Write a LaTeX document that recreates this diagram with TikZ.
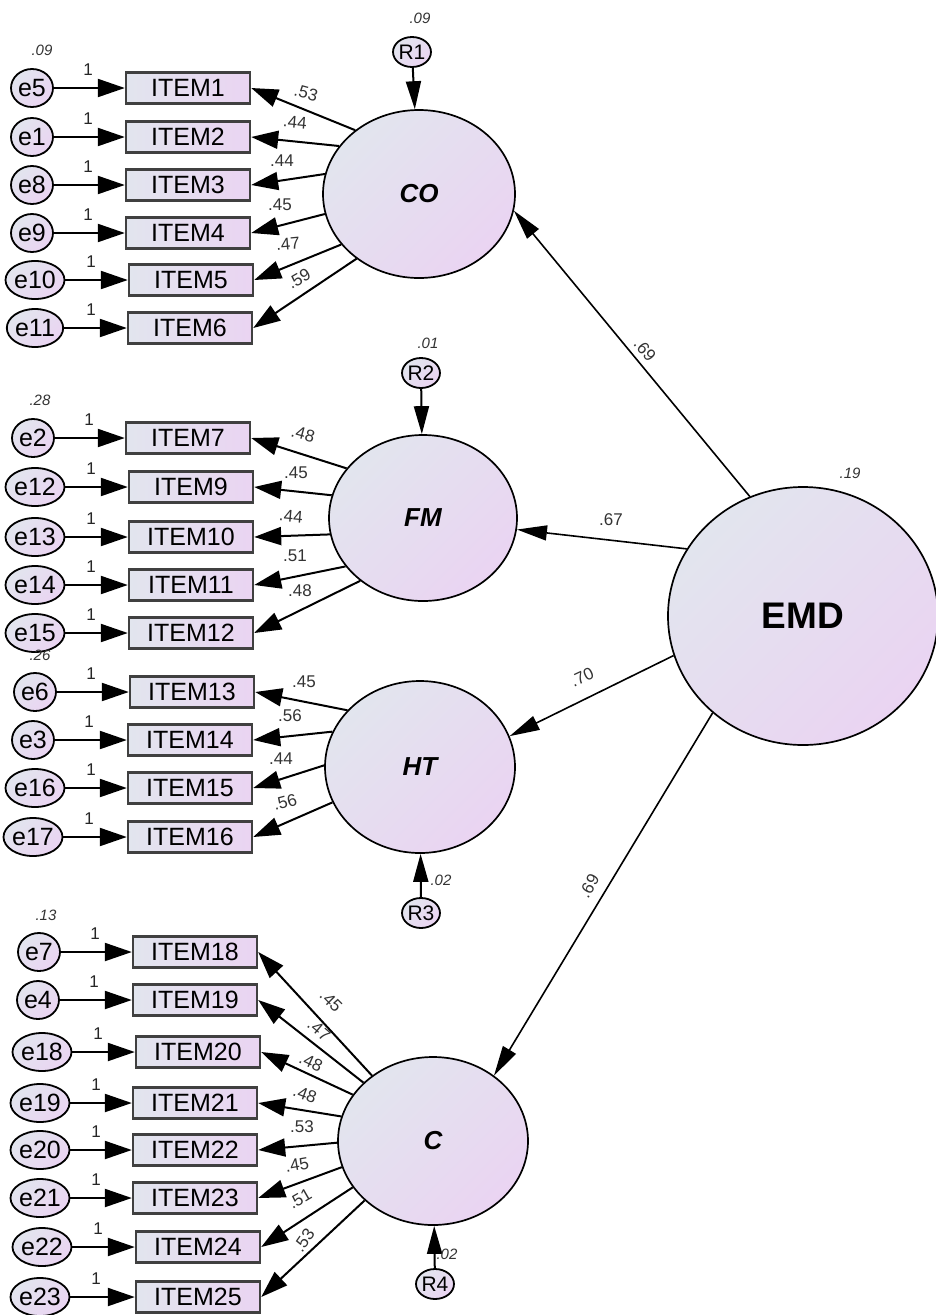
\documentclass[tikz,border=0pt]{standalone}
\usepackage{fontspec}
\setmainfont{Liberation Sans}
\usetikzlibrary{shapes.geometric,arrows.meta}
\definecolor{cA}{HTML}{E2E5EE}
\definecolor{cB}{HTML}{EAD4F2}
\definecolor{lbl}{HTML}{333333}
\begin{document}
\begin{tikzpicture}[x=1pt,y=-1pt,
 shd/.style={top color=cA,bottom color=cB,shading angle=45},
 lat/.style={ellipse,draw=black,line width=1.7pt,shd,inner sep=0pt,font=\fontsize{26}{26}\selectfont\bfseries\itshape},
 err/.style={ellipse,draw=black,line width=1.8pt,shd,minimum width=42pt,minimum height=38pt,inner sep=0pt,font=\fontsize{25}{25}\selectfont},
 res/.style={ellipse,draw=black,line width=1.8pt,shd,minimum width=32pt,minimum height=30pt,inner sep=0pt,font=\fontsize{21}{21}\selectfont},
 itm/.style={rectangle,draw=black!75,line width=2.4pt,left color=cA,right color=cB,minimum width=124pt,minimum height=31pt,inner sep=0pt,font=\fontsize{25}{25}\selectfont},
 ar/.style={line width=2.2pt,-{Triangle[length=27pt,width=18pt]}},
 arR/.style={line width=2pt,-{Triangle[length=28pt,width=15pt]}},
 arL/.style={line width=2pt,-{Triangle[length=27pt,width=18pt]}},
 arE/.style={line width=1.6pt,-{Triangle[length=30pt,width=15pt]}},
 ld/.style={text=lbl,font=\fontsize{17}{17}\selectfont,inner sep=0pt},
 var/.style={text=lbl,font=\fontsize{15}{15}\selectfont\itshape,inner sep=0pt},
 one/.style={text=black!85,font=\fontsize{17}{17}\selectfont,inner sep=0pt}]
\useasboundingbox (0,0) rectangle (936,1315);
\fill[white] (0,0) rectangle (936,1315);

% latent variables
\node[lat,minimum width=192pt,minimum height=168pt] (CO) at (419,194) {CO};
\node[lat,minimum width=188pt,minimum height=166pt] (FM) at (423,518) {FM};
\node[lat,minimum width=190pt,minimum height=172pt] (HT) at (420,767) {HT};
\node[lat,minimum width=190pt,minimum height=168pt] (C) at (433,1141) {C};
\node[lat,minimum width=270pt,minimum height=258pt,font=\fontsize{37}{37}\selectfont\bfseries] (EMD) at (803,616) {EMD};

% residuals
\node[res] (R1) at (412,52) {R1};
\node[res] (R2) at (421,373) {R2};
\node[res] (R3) at (421,913) {R3};
\node[res] (R4) at (435,1284) {R4};
\draw[arR] (R1) -- (CO);
\draw[arR] (R2) -- (FM);
\draw[arR] (R3) -- (HT);
\draw[arR] (R4) -- (C);
\node[var] (vR1) at (420,18) {.09};
\node[var] (vR2) at (428,343) {.01};
\node[var] (vR3) at (441,880) {.02};
\node[var] (vR4) at (447,1254) {.02};

% error terms and items
\foreach \e/\ex/\i/\ix/\y in {5/32/1/188/88, 1/32/2/188/137, 8/32/3/188/185, 9/32/4/188/233, 10/35/5/191/280, 11/35/6/190/328,
 2/33/7/188/438, 12/35/9/191/487, 13/35/10/191/537, 14/35/11/191/585, 15/35/12/191/633,
 6/35/13/192/692, 3/33/14/190/740, 16/35/15/190/788, 17/33/16/190/837,
 7/39/18/195/952, 4/38/19/195/1000, 18/42/20/198/1052, 19/40/21/195/1103, 20/40/22/195/1150, 21/40/23/195/1198, 22/42/24/198/1247, 23/40/25/198/1297}{
 \node[err] (e\e) at (\ex,\y) {e\e};
 \node[itm] (I\i) at (\ix,\y) {ITEM\i};
 \draw[ar] (e\e) -- (I\i);
 \node[one] (one\i) at ({\ex+56},{\y-18}) {1};
}
\node[var] (ve5) at (42,50) {.09};
\node[var] (ve2) at (40,400) {.28};
\node[var] (ve6) at (40,655) {.26};
\node[var] (ve7) at (46,915) {.13};
\node[var] (vEMD) at (850,473) {.19};

% loadings CO
\draw[arL] (CO.135) -- (I1.east);
\draw[arL] (CO.149) -- (I2.east);
\draw[arL] (CO.168) -- (I3.east);
\draw[arL] (CO.192) -- (I4.east);
\draw[arL] (CO.213) -- (I5.east);
\draw[arL] (CO.226) -- (I6.east);
\node[ld,rotate=-15] (l1) at (306,93) {.53};
\node[ld,rotate=-5] (l2) at (295,122) {.44};
\node[ld] (l3) at (282,161) {.44};
\node[ld] (l4) at (280,205) {.45};
\node[ld,rotate=5] (l5) at (288,244) {.47};
\node[ld,rotate=30] (l6) at (299,279) {.59};

% loadings FM
\draw[arL] (FM.147) -- (I7.east);
\draw[arL] (FM.166) -- (I9.east);
\draw[arL] (FM.190) -- (I10.east);
\draw[arL] (FM.212) -- (I11.east);
\draw[arL] (FM.225) -- (I12.east);
\node[ld,rotate=-15] (l7) at (303,434) {.48};
\node[ld] (l9) at (296,473) {.45};
\node[ld,rotate=-5] (l10) at (291,516) {.44};
\node[ld] (l11) at (295,556) {.51};
\node[ld] (l12) at (300,591) {.48};

% loadings HT
\draw[arL] (HT.142) -- (I13.east);
\draw[arL] (HT.158) -- (I14.east);
\draw[arL] (HT.179) -- (I15.east);
\draw[arL] (HT.202) -- (I16.east);
\node[ld] (l13) at (304,682) {.45};
\node[ld] (l14) at (290,716) {.56};
\node[ld] (l15) at (281,759) {.44};
\node[ld,rotate=15] (l16) at (285,802) {.56};

% loadings C
\draw[arL] (C.133) -- (I18.east);
\draw[arL] (C.140) -- (I19.east);
\draw[arL] (C.150) -- (I20.east);
\draw[arL] (C.165) -- (I21.east);
\draw[arL] (C.181) -- (I22.east);
\draw[arL] (C.196) -- (I23.east);
\draw[arL] (C.210) -- (I24.east);
\draw[arL] (C.221) -- (I25.east);
\node[ld,rotate=-45] (l18) at (331,1001) {.45};
\node[ld,rotate=-40] (l19) at (319,1030) {.47};
\node[ld,rotate=-25] (l20) at (311,1062) {.48};
\node[ld,rotate=-20] (l21) at (305,1094) {.48};
\node[ld] (l22) at (302,1127) {.53};
\node[ld,rotate=10] (l23) at (297,1165) {.45};
\node[ld,rotate=30] (l24) at (300,1199) {.51};
\node[ld,rotate=55] (l25) at (304,1240) {.53};

% structural paths
\draw[arE] (EMD.114) -- (CO.350);
\draw[arE] (EMD.150) -- (FM.353);
\draw[arE] (EMD.197) -- (HT.19);
\draw[arE] (EMD.227) -- (C.47);
\node[ld,rotate=-50] (pCO) at (645,350) {.69};
\node[ld] (pFM) at (611,520) {.67};
\node[ld,rotate=25] (pHT) at (582,677) {.70};
\node[ld,rotate=60] (pC) at (589,886) {.69};
\end{tikzpicture}
\end{document}
